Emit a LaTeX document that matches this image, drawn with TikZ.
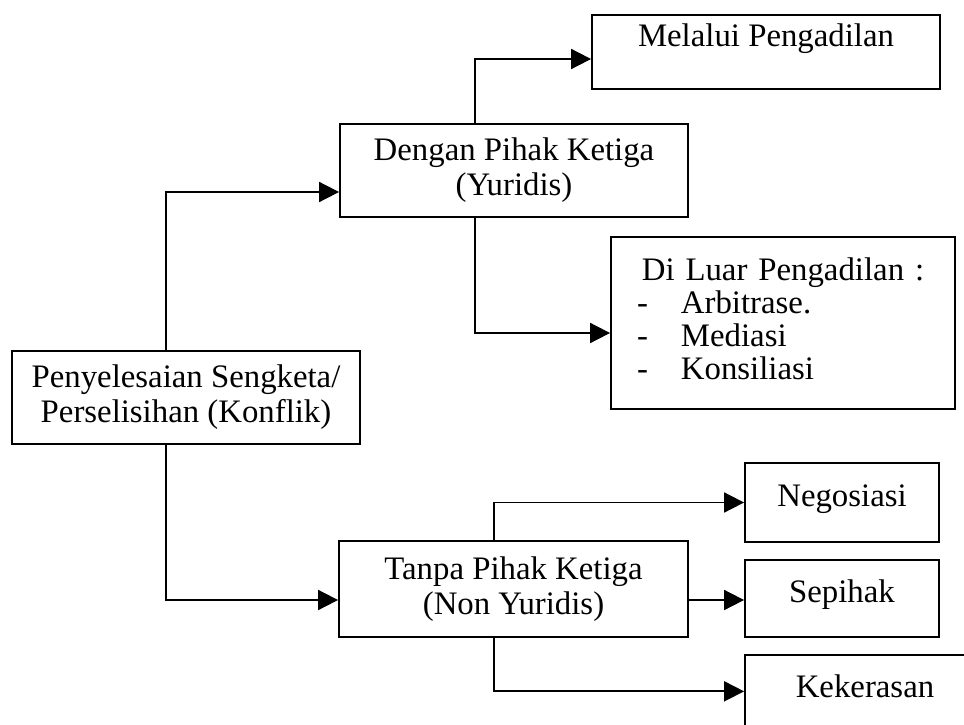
\documentclass[tikz,border=0pt]{standalone}
\usepackage{fontspec}
\setmainfont{Liberation Serif}
\usetikzlibrary{arrows.meta}

\begin{document}
\begin{tikzpicture}[x=1pt,y=-1pt,
    box/.style={draw, line width=1.8pt, align=center, inner ysep=2pt,
        font=\fontsize{32.8}{35}\selectfont},
    arr/.style={line width=1.8pt, -{Triangle[length=20pt,width=20pt]}}]
\useasboundingbox (0,0) rectangle (964,725);

%the boxes
\node[box, minimum width=348pt, minimum height=93pt] (root) at (186,397.5)
    {Penyelesaian Sengketa/\\Perselisihan (Konflik)};
\node[box, minimum width=348pt, minimum height=93pt] (dengan) at (514,170.5)
    {Dengan Pihak Ketiga\\(Yuridis)};
\node[box, minimum width=348pt, minimum height=74pt, text depth=34pt] (melalui) at (766,52)
    {Melalui Pengadilan};
\node[box, minimum width=344pt, minimum height=172pt, text width=316pt, align=left,
    text depth=107pt, font=\fontsize{32.8}{33}\selectfont] (luar) at (783,323)
    {\makebox[316pt][c]{Di Luar Pengadilan :}\\
     \hspace*{12pt}\makebox[44pt][l]{-}Arbitrase.\\
     \hspace*{12pt}\makebox[44pt][l]{-}Mediasi\\
     \hspace*{12pt}\makebox[44pt][l]{-}Konsiliasi};
\node[box, minimum width=349pt, minimum height=96pt] (tanpa) at (513.5,589)
    {Tanpa Pihak Ketiga\\(Non Yuridis)};
\node[box, minimum width=194pt, minimum height=79pt, text depth=13pt] (nego) at (842,502.5)
    {Negosiasi};
\node[box, minimum width=194pt, minimum height=77pt, text depth=15pt] (sepihak) at (842,598.5)
    {Sepihak};
% runs off the page at right and bottom
\node[box, minimum width=240pt, inner ysep=19pt, text depth=100pt, anchor=base] (keker) at (865,697)
    {Kekerasan};

%connectors
\draw[arr] ([xshift=-20pt]root.north) |- ([yshift=-21.5pt]dengan.west);
\draw[arr] ([xshift=-20pt]root.south) |- ([yshift=-11pt]tanpa.west);
\draw[arr] ([xshift=-39pt]dengan.north) |- ([yshift=-7pt]melalui.west);
\draw[arr] ([xshift=-39pt]dengan.south) |- ([yshift=-10pt]luar.west);
\draw[arr] ([xshift=-19.5pt]tanpa.north) |- (nego.west);
\draw[arr] ([yshift=-11pt]tanpa.east) -- ([yshift=-11pt]tanpa.east -| sepihak.west);
\draw[arr] ([xshift=-19.5pt]tanpa.south) |- ([yshift=-37pt]keker.north west);
\end{tikzpicture}
\end{document}
